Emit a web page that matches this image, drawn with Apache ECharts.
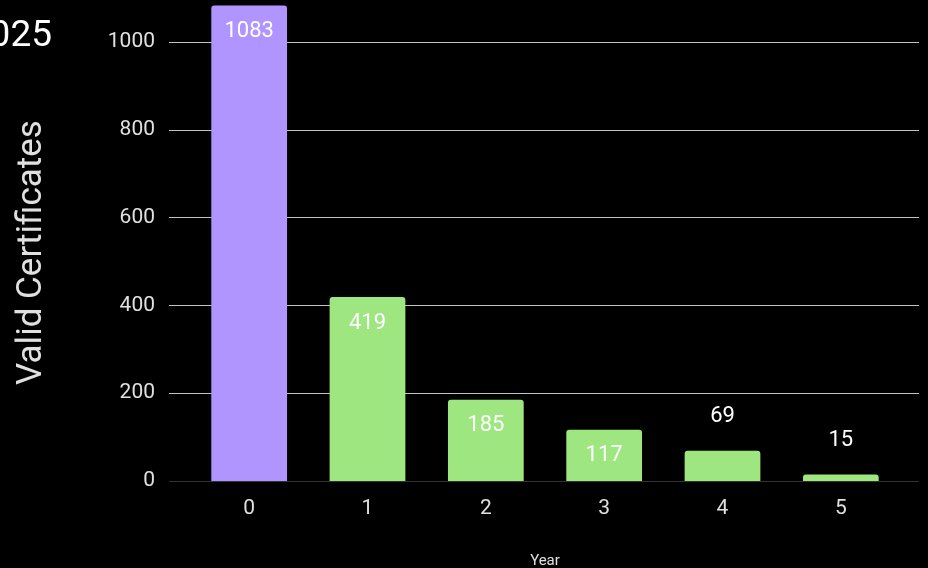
<!DOCTYPE html>
<html>
<head>
<meta charset="utf-8">
<script src="https://cdn.jsdelivr.net/npm/echarts@6/dist/echarts.min.js"></script>
<style>
html,body{margin:0;padding:0;background:#000;}
#c{width:928px;height:568px;}
</style>
</head>
<body>
<div id="c"></div>
<script>
const categories = ['0', '1', '2', '3', '4', '5'];
const values = [1083, 419, 185, 117, 69, 15];
const barColors = ['#b094ff', '#9ee67f', '#9ee67f', '#9ee67f', '#9ee67f', '#9ee67f'];
const yTicks = [0, 200, 400, 600, 800, 1000];
const titleText = '2025';
const yName = 'Valid Certificates';
const xName = 'Year';

const font = 'Roboto';
const chart = echarts.init(document.getElementById('c'), null, {renderer: 'canvas'});

const seriesData = values.map((v, i) => ({
  value: v,
  itemStyle: {color: barColors[i]},
  label: v < 100 ? {position: 'top', distance: 23} : {position: 'insideTop', distance: 15}
}));

chart.setOption({
  backgroundColor: '#000',
  animation: false,
  graphic: [{
    type: 'text',
    x: 52, y: 37,
    style: {
      text: titleText, fill: '#ffffff', font: '37px Roboto',
      align: 'right', verticalAlign: 'middle'
    }
  }],
  grid: [
    {left: 169, right: 9, top: 42, bottom: 87, outerBoundsMode: 'none', containLabel: false},
    {left: 190, right: 28, top: 42, bottom: 87, outerBoundsMode: 'none', containLabel: false}
  ],
  xAxis: [
    {gridIndex: 0, type: 'category', data: categories, show: false},
    {
      gridIndex: 1, type: 'category', data: categories,
      axisLine: {show: false}, axisTick: {show: false},
      axisLabel: {color: '#e0e0e0', fontSize: 21, fontFamily: font, margin: 17},
      name: xName, nameLocation: 'middle', nameGap: 73,
      nameTextStyle: {color: '#e0e0e0', fontSize: 15, fontFamily: font}
    }
  ],
  yAxis: [
    {
      gridIndex: 0, type: 'value', min: yTicks[0], max: yTicks[yTicks.length - 1], interval: yTicks[1] - yTicks[0],
      axisLine: {show: false}, axisTick: {show: false},
      axisLabel: {color: '#e0e0e0', fontSize: 21, fontFamily: font, margin: 14, formatter: v => String(v)},
      splitLine: {lineStyle: {color: ['#333333', '#c4c4c4', '#c4c4c4', '#c4c4c4', '#c4c4c4', '#c4c4c4'], width: 1}},
      name: yName, nameLocation: 'middle', nameGap: 119, nameRotate: 90,
      nameTextStyle: {color: '#e0e0e0', fontSize: 35, fontFamily: font, padding: [0, 0, 0, 18]}
    },
    {
      gridIndex: 1, type: 'value', min: yTicks[0], max: yTicks[yTicks.length - 1], show: false
    }
  ],
  series: [{
    type: 'bar',
    xAxisIndex: 1, yAxisIndex: 1,
    data: seriesData,
    barWidth: '64%',
    clip: false,
    itemStyle: {borderRadius: [3, 3, 0, 0]},
    label: {show: true, color: '#ffffff', fontSize: 22, fontFamily: font}
  }]
});
</script>
</body>
</html>
